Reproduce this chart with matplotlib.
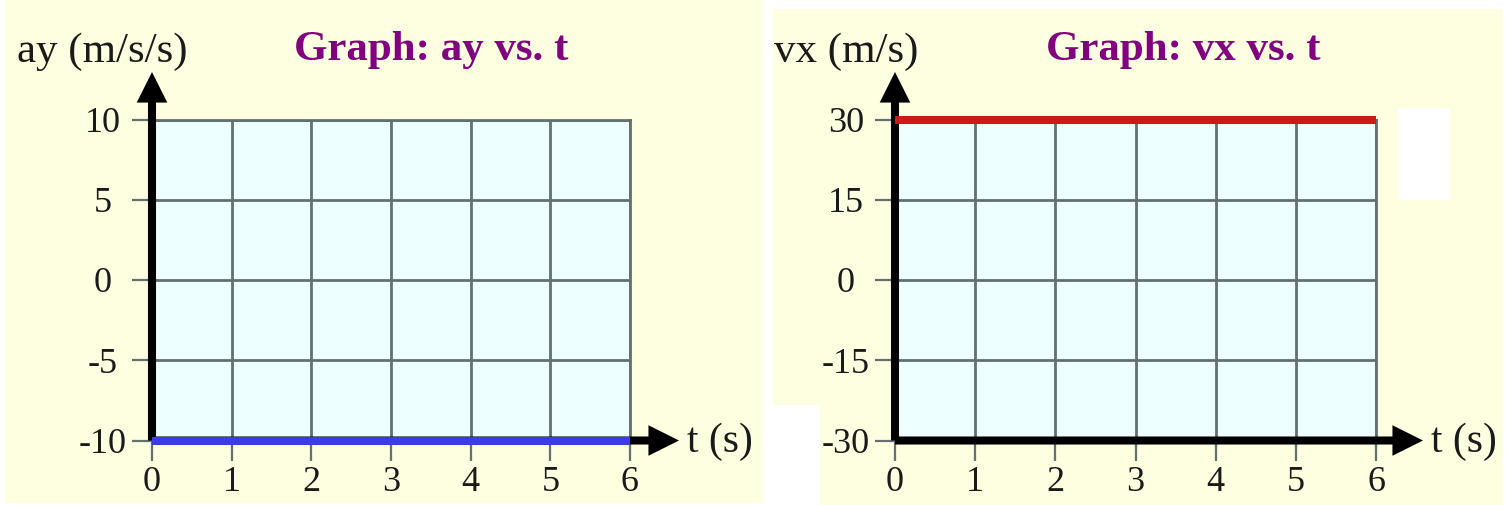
import matplotlib
matplotlib.use("Agg")
import matplotlib.pyplot as plt
from matplotlib.patches import Rectangle, FancyArrowPatch
from matplotlib.transforms import Affine2D

# ---- data -------------------------------------------------------------
t_ticks = [0, 1, 2, 3, 4, 5, 6]
ay_ticks = [-10, -5, 0, 5, 10]
vx_ticks = [-30, -15, 0, 15, 30]

t_vals = [0, 6]
ay_vals = [-10, -10]
vx_vals = [30, 30]

ay_title = "Graph: ay vs. t"
vx_title = "Graph: vx vs. t"
ay_label = "ay (m/s/s)"
vx_label = "vx (m/s)"
t_label = "t (s)"

# ---- styling ----------------------------------------------------------
W, H = 1506, 505
DPI = 100
PANEL = "#FEFEE0"
PLOT_BG = "#EEFFFF"
GRID = "#627070"
TITLE_C = "#800080"
TEXT_C = "#1A1A1A"
SERIF = "Liberation Serif"

fig = plt.figure(figsize=(W / DPI, H / DPI), dpi=DPI, facecolor="white")
# pixel coordinates measured from the top-left corner
pix = Affine2D().scale(1 / W, -1 / H).translate(0, 1) + fig.transFigure


def add_rect(x0, y0, x1, y1, color, z):
    fig.patches.append(Rectangle((x0, y1), x1 - x0, y0 - y1, transform=pix,
                                 facecolor=color, edgecolor="none", zorder=z))


# panel backgrounds, behind the axes
add_rect(5, 0, 763, 503, PANEL, -5)
add_rect(773, 9, 1503, 505, PANEL, -5)


def make_panel(x0, x1, y0, y1, yticks, yvals, color, title, title_x, ylab, ylab_x,
               tip_x):
    ax = fig.add_axes([x0 / W, 1 - y1 / H, (x1 - x0) / W, (y1 - y0) / H])
    ax.set_facecolor(PLOT_BG)
    ax.set_xlim(t_ticks[0], t_ticks[-1])
    ax.set_ylim(yticks[0], yticks[-1])
    ax.set_xticks(t_ticks)
    ax.set_yticks(yticks)
    ax.set_xticklabels([str(v) for v in t_ticks])
    ax.set_yticklabels([str(v) for v in yticks])
    ax.grid(True, color=GRID, lw=2.0, zorder=1)
    for s in ax.spines.values():
        s.set_color(GRID)
        s.set_linewidth(2.0)
    ax.tick_params(axis="both", direction="out", length=14.5, width=1.6,
                   color=GRID, labelsize=26, labelcolor=TEXT_C)
    ax.tick_params(axis="x", pad=4)
    ax.tick_params(axis="y", pad=21)
    for lab in ax.get_xticklabels() + ax.get_yticklabels():
        lab.set_fontfamily(SERIF)
    for lab in ax.get_yticklabels():
        lab.set_horizontalalignment("center")

    # axis arrows
    ax_h = (y1 - y0)
    ax_w = (x1 - x0)
    arrow_kw = dict(arrowstyle="simple,head_length=2.2,head_width=2.2,tail_width=0.58",
                    mutation_scale=10, transform=ax.transAxes, color="black",
                    lw=0, shrinkA=0, shrinkB=0, clip_on=False, zorder=4)
    ax.add_patch(FancyArrowPatch((0, 0), (0, 1 + (y0 - 72) / ax_h), **arrow_kw))
    ax.add_patch(FancyArrowPatch((0, 0), ((tip_x - x0) / ax_w, 0), **arrow_kw))

    # data line
    ax.plot(t_vals, yvals, color=color, lw=5.8, solid_capstyle="butt",
            clip_on=False, zorder=5)

    fig.text(title_x, 60, title, transform=pix, ha="center", va="baseline",
             fontsize=31, fontweight="bold", color=TITLE_C, family=SERIF)
    fig.text(ylab_x, 62, ylab, transform=pix, ha="left", va="baseline",
             fontsize=31, color=TEXT_C, family=SERIF)
    fig.text(tip_x + 8, 452, t_label, transform=pix, ha="left", va="baseline",
             fontsize=30, color=TEXT_C, family=SERIF)
    return ax


make_panel(152, 630, 119.5, 440.5, ay_ticks, ay_vals, "#3C3CE6",
           ay_title, 431, ay_label, 17, 679)
make_panel(895, 1376, 119.5, 440.5, vx_ticks, vx_vals, "#CC1A1A",
           vx_title, 1183, vx_label, 774, 1423)

# blank boxes on the right panel
add_rect(1398, 108, 1450, 200, "white", 10)
add_rect(773, 405, 820, 505, "white", 10)

fig.savefig("out.png", dpi=DPI, facecolor="white")
